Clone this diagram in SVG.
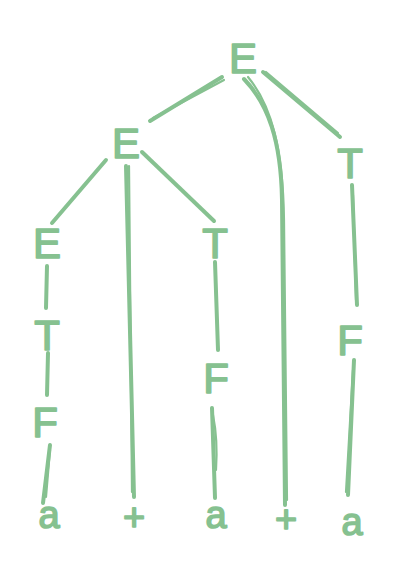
<svg xmlns="http://www.w3.org/2000/svg" width="401" height="583" viewBox="0 0 401 583">
<style>
.n text{font-family:"Liberation Sans",Arial,sans-serif;font-size:42px;fill:#86c190;stroke:#86c190;stroke-width:1.6;stroke-linejoin:round;text-anchor:middle}
.n text.t{font-size:38px}
#edges path{fill:none;stroke:#86c190;stroke-width:4;stroke-linecap:round;stroke-linejoin:round}
#edges path.s{stroke-width:2.2}
</style>
<rect width="401" height="583" fill="#ffffff"/>
<g id="edges">
<path d="M150 121 L222 77"/><path class="s" d="M153 118 L224 80"/>
<path d="M263 72 L340 137"/><path class="s" d="M266 72 L338 133"/>
<path d="M244 79 C268 104 281 140 282 200 L285 505"/><path class="s" d="M248 77 C272 106 283 150 284 220 L287 500"/>
<path d="M106 160 L52 223"/>
<path d="M126 166 L134 497"/><path class="s" d="M129 166 L132 492"/>
<path d="M142 152 L214 221"/>
<path d="M47 266 L46 308"/>
<path d="M48 353 L47 395"/>
<path d="M50 445 L43 503"/><path class="s" d="M50 450 L46 497"/>
<path d="M215 262 L218 350"/>
<path d="M212 408 L215 498"/><path class="s" d="M213 415 Q218 440 216 470"/>
<path d="M352 185 L357 305"/><path class="s" d="M353 195 L356 300"/>
<path d="M354 360 L348 495"/><path class="s" d="M353 370 L346 492"/>
</g>
<g class="n">
<g id="n-E0"><text x="243" y="73">E</text></g>
<g id="n-E1"><text x="126" y="158">E</text></g>
<g id="n-T0"><text x="350" y="178">T</text></g>
<g id="n-E2"><text x="47" y="258">E</text></g>
<g id="n-T1"><text x="215" y="258">T</text></g>
<g id="n-T2"><text x="47" y="350">T</text></g>
<g id="n-F0"><text x="216" y="393">F</text></g>
<g id="n-F1"><text x="45" y="437">F</text></g>
<g id="n-F2"><text x="350" y="355">F</text></g>
<g id="n-a0"><text class="t" x="49" y="528">a</text></g>
<g id="n-p0"><text class="t" x="134" y="530">+</text></g>
<g id="n-a1"><text class="t" x="216" y="528">a</text></g>
<g id="n-p1"><text class="t" x="286" y="532">+</text></g>
<g id="n-a2"><text class="t" x="352" y="535">a</text></g>
</g>
</svg>
